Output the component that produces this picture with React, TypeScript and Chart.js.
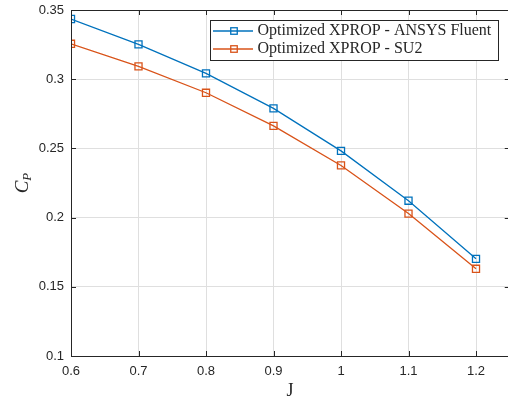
import React, { useEffect, useRef } from "react";
import { Chart, registerables } from "chart.js";

Chart.register(...registerables);

const jValues = [0.6, 0.7, 0.8, 0.9, 1.0, 1.1, 1.2];
const fluentCp = [0.3435, 0.3252, 0.3042, 0.2789, 0.2482, 0.2122, 0.1702];
const su2Cp = [0.3256, 0.3093, 0.2902, 0.2663, 0.2377, 0.2029, 0.1630];
const xTicks = [0.6, 0.7, 0.8, 0.9, 1.0, 1.1, 1.2];
const yTicks = [0.1, 0.15, 0.2, 0.25, 0.3, 0.35];
const seriesNames = ["Optimized XPROP - ANSYS Fluent", "Optimized XPROP - SU2"];
const seriesColors = ["#0072BD", "#D95319"];

const AXIS = "#262626";
const GRID = "#dfdfdf";

const framePlugin = {
  id: "matlabFrame",
  afterDraw(chart: any) {
    const ctx = chart.ctx;
    const a = chart.chartArea;
    const xs = chart.scales.x;
    const ys = chart.scales.y;
    ctx.save();
    ctx.strokeStyle = AXIS;
    ctx.lineWidth = 1;
    ctx.beginPath();
    ctx.rect(Math.round(a.left) + 0.5, Math.round(a.top) + 0.5, Math.round(a.right - a.left), Math.round(a.bottom - a.top));
    ctx.stroke();
    const tl = 5;
    ctx.beginPath();
    for (const v of xTicks) {
      const px = Math.round(xs.getPixelForValue(v)) + 0.5;
      ctx.moveTo(px, a.bottom);
      ctx.lineTo(px, a.bottom - tl);
      ctx.moveTo(px, a.top);
      ctx.lineTo(px, a.top + tl);
    }
    for (const v of yTicks) {
      const py = Math.round(ys.getPixelForValue(v)) + 0.5;
      ctx.moveTo(a.left, py);
      ctx.lineTo(a.left + tl, py);
      ctx.moveTo(a.right, py);
      ctx.lineTo(a.right - tl, py);
    }
    ctx.stroke();

    // axis labels
    ctx.fillStyle = AXIS;
    ctx.font = "18px 'Liberation Serif'";
    ctx.textAlign = "center";
    ctx.textBaseline = "alphabetic";
    ctx.fillText("J", 290, 396);

    ctx.save();
    ctx.translate(28, 183);
    ctx.rotate(-Math.PI / 2);
    ctx.textAlign = "left";
    ctx.font = "italic 19px 'Liberation Serif'";
    const cw = ctx.measureText("C").width;
    ctx.fillText("C", -cw / 2 - 4, 0);
    ctx.font = "italic 13px 'Liberation Serif'";
    ctx.fillText("P", cw / 2 - 4, 3);
    ctx.restore();

    // legend
    const lx = 210.5, ly = 20.5, lw = 288, lh = 40;
    ctx.fillStyle = "#ffffff";
    ctx.fillRect(lx, ly, lw, lh);
    ctx.strokeStyle = AXIS;
    ctx.lineWidth = 1;
    ctx.strokeRect(lx, ly, lw, lh);
    const rows = [31, 49];
    ctx.font = "16px 'Liberation Serif'";
    ctx.textAlign = "left";
    ctx.textBaseline = "middle";
    for (let i = 0; i < 2; i++) {
      const y = rows[i];
      ctx.strokeStyle = seriesColors[i];
      ctx.lineWidth = 1.3;
      ctx.beginPath();
      ctx.moveTo(213, y);
      ctx.lineTo(253, y);
      ctx.stroke();
      ctx.strokeRect(234 - 3.25, y - 3.25, 6.5, 6.5);
      ctx.fillStyle = AXIS;
      ctx.fillText(seriesNames[i], 257.5, y);
    }
    ctx.restore();
  },
};

export default function App() {
  const ref = useRef<HTMLCanvasElement | null>(null);
  useEffect(() => {
    if (!ref.current) return;
    const chart = new Chart(ref.current, {
      type: "line",
      data: {
        datasets: [
          {
            label: seriesNames[0],
            data: jValues.map((x, i) => ({ x, y: fluentCp[i] })),
            borderColor: seriesColors[0],
            backgroundColor: "rgba(0,0,0,0)",
            borderWidth: 1.3,
            pointStyle: "rect",
            pointRadius: 5,
            pointBorderWidth: 1.3,
            pointBackgroundColor: "rgba(0,0,0,0)",
            pointBorderColor: seriesColors[0],
          },
          {
            label: seriesNames[1],
            data: jValues.map((x, i) => ({ x, y: su2Cp[i] })),
            borderColor: seriesColors[1],
            backgroundColor: "rgba(0,0,0,0)",
            borderWidth: 1.3,
            pointStyle: "rect",
            pointRadius: 5,
            pointBorderWidth: 1.3,
            pointBackgroundColor: "rgba(0,0,0,0)",
            pointBorderColor: seriesColors[1],
          },
        ],
      },
      options: {
        responsive: false,
        animation: false,
        layout: { autoPadding: false, padding: { top: 10, right: 2.25, left: 0, bottom: 0 } },
        plugins: { legend: { display: false }, tooltip: { enabled: false } },
        scales: {
          x: {
            type: "linear",
            min: 0.6,
            max: 1.25,
            afterBuildTicks: (s: any) => {
              s.ticks = xTicks.map((v) => ({ value: v }));
            },
            afterFit: (s: any) => {
              s.height = 47;
              s.paddingLeft = 0;
              s.paddingRight = 0;
            },
            grid: { color: GRID, drawTicks: false, lineWidth: 1 },
            border: { display: false },
            ticks: {
              padding: 8,
              color: AXIS,
              font: { family: "'Liberation Sans'", size: 13 },
              callback: (v: any) => String(Number(Number(v).toFixed(2))),
              maxRotation: 0,
            },
          },
          y: {
            type: "linear",
            min: 0.1,
            max: 0.35,
            afterBuildTicks: (s: any) => {
              s.ticks = yTicks.map((v) => ({ value: v }));
            },
            afterFit: (s: any) => {
              s.width = 71;
              s.paddingTop = 0;
              s.paddingBottom = 0;
            },
            grid: { color: GRID, drawTicks: false, lineWidth: 1 },
            border: { display: false },
            ticks: {
              padding: 7,
              color: AXIS,
              font: { family: "'Liberation Sans'", size: 13 },
              callback: (v: any) => String(Number(Number(v).toFixed(2))),
            },
          },
        },
      },
      plugins: [framePlugin],
    });
    return () => chart.destroy();
  }, []);
  return (
    <div style={{ position: "absolute", left: 0, top: 0, width: 508, height: 403, overflow: "hidden", background: "#fff" }}>
      <canvas ref={ref} width={512} height={403} style={{ display: "block", width: 512, height: 403 }} />
    </div>
  );
}
